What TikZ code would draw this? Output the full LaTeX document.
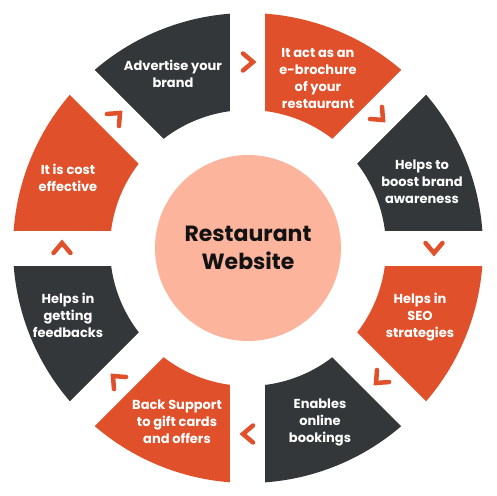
\documentclass[tikz,border=0pt]{standalone}
\usepackage{fontspec}
\setmainfont{Poppins}
\definecolor{darkseg}{HTML}{34373A}
\definecolor{orangeseg}{HTML}{E0512B}
\definecolor{peach}{HTML}{FDB49C}
\begin{document}
\begin{tikzpicture}[x=1pt,y=1pt,
  lbl/.style={text=white,font=\bfseries\fontsize{13}{17}\selectfont,align=center,inner sep=0pt},
  chev/.style={draw=orangeseg,line width=4.5pt,line cap=round,line join=miter},
  band/.style={draw=white,line width=35pt}]
\useasboundingbox (-248,-248) rectangle (248,248);
% ring segments
\foreach \a/\c in {90/darkseg,45/orangeseg,0/darkseg,-45/orangeseg,-90/darkseg,-135/orangeseg,-180/darkseg,135/orangeseg}
  \fill[\c] (\a:138) -- (\a:235) arc[start angle=\a,end angle=\a+45,radius=235] -- (\a+45:138) arc[start angle=\a+45,end angle=\a,radius=138] -- cycle;
% white gaps
\foreach \a in {0,45,90,135}
  \draw[band] (\a:241) -- (\a+180:241);
% centre
\node[circle,fill=peach,minimum size=186pt,inner sep=0pt,align=center,text=black!93,
  font=\bfseries\fontsize{22}{28}\selectfont] (hub) at (0,0) {Restaurant\\Website};
% labels
\node[lbl] (adv)  at (-75,174) {Advertise your\\brand};
\node[lbl] (bro)  at (70,170)  {It act as an\\e-brochure\\of your\\restaurant};
\node[lbl] (aw)   at (174,66)  {Helps to\\boost brand\\awareness};
\node[lbl] (seo)  at (172,-69) {Helps in\\SEO\\strategies};
\node[lbl] (book) at (72,-174) {Enables\\online\\bookings};
\node[lbl] (gift) at (-71,-174) {Back Support\\to gift cards\\and offers};
\node[lbl] (feed) at (-180,-67) {Helps in\\getting\\feedbacks};
\node[lbl] (cost) at (-180,70) {It is cost\\effective};
% chevrons
\foreach \t in {90,45,0,-45,-90,-135,-180,135}
  \draw[chev,shift={(\t:186)},rotate=\t-90] (-5,8.5) -- (5,0) -- (-5,-8.5);
\end{tikzpicture}
\end{document}
